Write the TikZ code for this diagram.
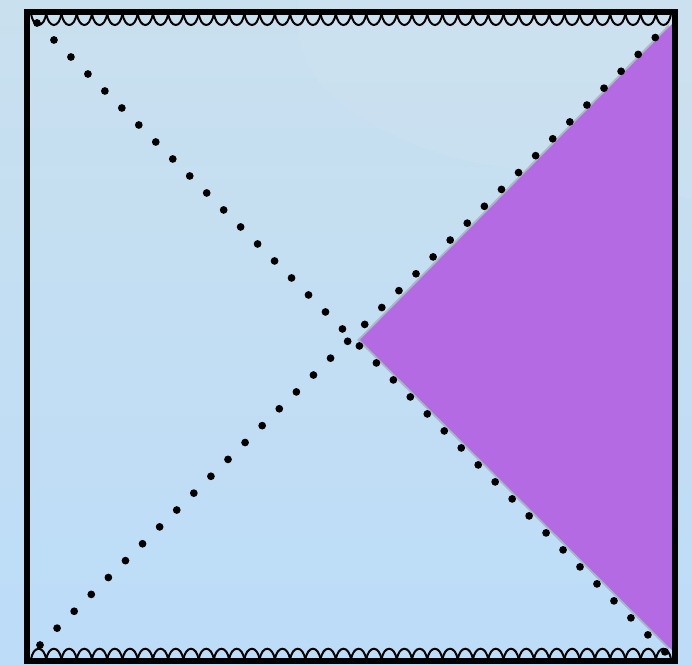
\documentclass[tikz,border=0pt]{standalone}
\usetikzlibrary{shadows}

\definecolor{skytop}{RGB}{201,224,238}
\definecolor{skybottom}{RGB}{188,220,248}
\definecolor{wedge}{RGB}{180,106,226}

\begin{document}
\begin{tikzpicture}[
    x=0.03cm, y=-0.03cm,
    frame/.style={draw, line width=4.3pt},
    singular/.style={draw, line width=1.7pt},
    horizon/.style={draw, line width=6.6pt, line cap=round,
      dash pattern=on 0pt off 20.5pt},
    region/.style={fill=wedge, drop shadow={shadow xshift=-2.4pt, shadow yshift=0pt, opacity=0.4}}
  ]

  % background
  \shade[top color=skytop, bottom color=skybottom] (0,0) rectangle (692,665);
  \useasboundingbox (0,0) rectangle (692,665);
  \fill[white, opacity=0.06] (300,0) .. controls (290,60) and (320,110) .. (430,150)
    .. controls (520,180) and (600,170) .. (692,200) -- (692,0) -- cycle;

  % corners of the diagram
  \coordinate (nw) at (27,12);
  \coordinate (ne) at (675,12);
  \coordinate (sw) at (27,661);
  \coordinate (se) at (675,661);
  \coordinate (centre) at (360,340);

  % shaded wedge
  \path[region] (centre) -- (672,24) -- (672,650) -- cycle;

  % horizons
  \coordinate (h1a) at (37,23);
  \coordinate (h1b) at (668,655);
  \coordinate (h2a) at (40,645);
  \coordinate (h2b) at (668,25);
  \path[horizon] (h1a) -- (h1b);
  \path[horizon] (h2a) -- (h2b);

  % singularities
  \foreach \i in {0,...,41} {
    \pgfmathsetmacro{\xa}{31+15.24*\i}
    \pgfmathsetmacro{\xb}{\xa+15.24}
    \path[singular] (\xa,13) .. controls (\xa+2,29) and (\xb-2,29) .. (\xb,13);
    \path[singular] (\xa,660) .. controls (\xa+2,645) and (\xb-2,645) .. (\xb,660);
  }

  \path[frame] (nw) -- (ne) -- (se) -- (sw) -- cycle;

\end{tikzpicture}
\end{document}
